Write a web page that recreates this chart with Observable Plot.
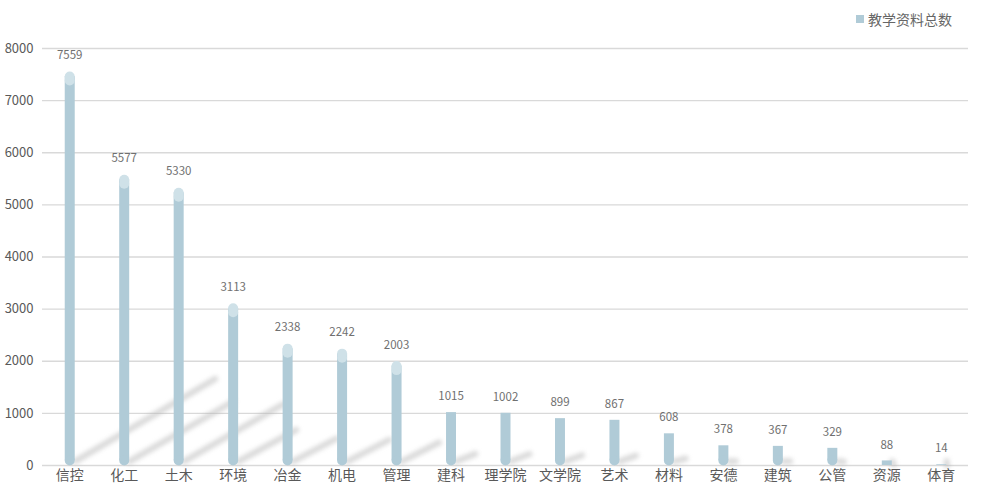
<!DOCTYPE html>
<html>
<head>
<meta charset="utf-8">
<script src="https://cdn.jsdelivr.net/npm/d3@7"></script>
<script src="https://cdn.jsdelivr.net/npm/@observablehq/plot@0.6"></script>
<style>
  html, body { margin: 0; padding: 0; background: #fff; }
  #wrap { position: relative; width: 981px; height: 491px; font-family: "Noto Sans CJK SC", "Noto Sans", sans-serif; }
  #legend { position: absolute; top: 9px; left: 856px; font-size: 14px; color: #666; display: flex; align-items: center; gap: 4px; }
  #legend .sw { width: 8px; height: 8px; background: #b0cbd7; display: inline-block; }
</style>
</head>
<body>
<div id="wrap">
  <div id="legend"><span class="sw"></span><span>教学资料总数</span></div>
</div>
<script>
const categories = ["信控","化工","土木","环境","冶金","机电","管理","建科","理学院","文学院","艺术","材料","安德","建筑","公管","资源","体育"];
const values = [7559,5577,5330,3113,2338,2242,2003,1015,1002,899,867,608,378,367,329,88,14];
const yTicks = [0,1000,2000,3000,4000,5000,6000,7000,8000];
const seriesName = "教学资料总数";

const data = categories.map((c, i) => ({i, category: c, value: values[i]}));
const big = data.filter(d => d.value > 1500);
const mid = data.filter(d => d.value > 300 && d.value <= 1500);
const small = data.filter(d => d.value <= 300);

const chart = Plot.plot({
  width: 981,
  height: 491,
  marginLeft: 42,
  marginRight: 13,
  marginTop: 48,
  marginBottom: 26,
  style: {fontFamily: '"Noto Sans CJK SC", "Noto Sans", sans-serif', background: "transparent"},
  x: {type: "linear", domain: [-0.5, 16.5], ticks: categories.map((_, i) => i), tickFormat: i => categories[i], tickSize: 0, tickPadding: 5, label: null},
  y: {domain: [0, 8000], ticks: yTicks, tickSize: 0, tickPadding: 9, label: null, tickFormat: d => String(d)},
  marks: [
    Plot.gridY(yTicks, {stroke: "#d9d9d9", strokeOpacity: 1, strokeWidth: 1.3}),
    Plot.link(data, {
      x1: d => d.i + 0.1, y1: 80,
      x2: d => d.i + 0.1 + d.value * 0.00034, y2: d => d.value * 0.22,
      stroke: "#b5b5b5", strokeWidth: 6, strokeOpacity: 0.5, strokeLinecap: "round",
      imageFilter: "blur(2.2px)"
    }),
    // tall cylinders: rounded top and bottom
    Plot.ruleX(big, {x: "i", y1: "value", y2: 0, insetTop: 5, insetBottom: 5, stroke: "#b0cbd7", strokeWidth: 10, strokeLinecap: "butt"}),
    Plot.dot(big, {x: "i", y: 0, r: 5, dy: -5, fill: "#b0cbd7", stroke: null}),
    Plot.dot(big, {x: "i", y: "value", r: 5, dy: 9, fill: "#cfe1e8", stroke: null}),
    Plot.dot(big, {x: "i", y: "value", r: 5, dy: 5, fill: "#cfe1e8", stroke: null}),
    // medium: flat top, rounded bottom
    Plot.ruleX(mid, {x: "i", y1: "value", y2: 0, insetBottom: 5, stroke: "#b0cbd7", strokeWidth: 10, strokeLinecap: "butt"}),
    Plot.dot(mid, {x: "i", y: 0, r: 5, dy: -5, fill: "#b0cbd7", stroke: null}),
    // small: plain
    Plot.ruleX(small, {x: "i", y1: "value", y2: 0, stroke: "#b0cbd7", strokeWidth: 10, strokeLinecap: "butt"}),
    Plot.text(data, {x: "i", y: "value", text: d => String(d.value), dy: -16, fill: "#707070", fontSize: 11.5}),
    Plot.axisX({ticks: categories.map((_, i) => i), tickFormat: i => categories[i], tickSize: 0, tickPadding: 5, fontSize: 14, fill: "#595959", label: null}),
    Plot.axisY({ticks: yTicks, tickSize: 0, tickPadding: 9, fontSize: 13, fill: "#595959", label: null, tickFormat: d => String(d)})
  ]
});
document.getElementById("wrap").appendChild(chart);
</script>
</body>
</html>
